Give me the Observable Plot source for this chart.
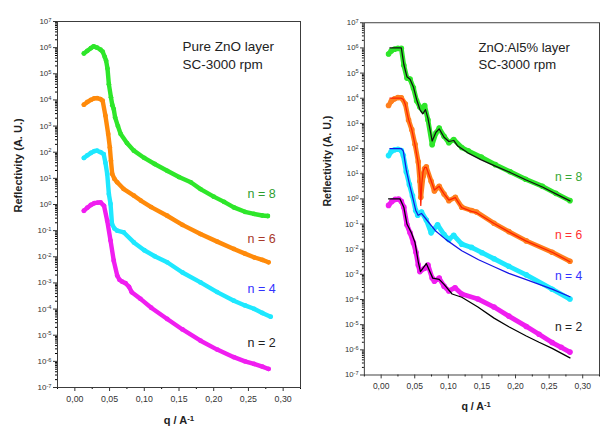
<!DOCTYPE html>
<html><head><meta charset="utf-8">
<script src="https://cdn.jsdelivr.net/npm/d3@7"></script>
<script src="https://cdn.jsdelivr.net/npm/@observablehq/plot@0.6"></script>
<style>
html,body{margin:0;padding:0;background:#fff;overflow:hidden;width:600px;height:427px}
#wrap{position:relative;width:600px;height:427px;overflow:hidden}
#left{position:absolute;left:0;top:0}
#right{position:absolute;left:300px;top:0}
svg{background:none}
</style></head><body><div id="wrap"><div id="left"></div><div id="right"></div></div>
<script>
// ---- Pure ZnO layer (left panel): q (1/A) and log10 reflectivity ----
const qPure8 = [0.013,0.018,0.023,0.027,0.032,0.037,0.040,0.043,0.045,0.047,0.049,0.052,0.054,0.056,0.058,0.062,0.066,0.075,0.085,0.100,0.115,0.133,0.150,0.167,0.181,0.200,0.215,0.229,0.245,0.258,0.270,0.278];
const lgPure8 = [5.78,5.88,5.98,6.05,6.0,5.92,5.85,5.65,5.5,5.2,4.6,4.1,3.8,3.65,3.33,3.0,2.7,2.35,2.06,1.78,1.55,1.29,1.05,0.85,0.59,0.3,0.1,-0.11,-0.28,-0.36,-0.42,-0.44];
const qPure6 = [0.013,0.018,0.023,0.028,0.032,0.037,0.040,0.044,0.048,0.0504,0.052,0.0538,0.057,0.061,0.070,0.085,0.095,0.110,0.133,0.155,0.181,0.205,0.229,0.245,0.258,0.270,0.279];
const lgPure6 = [3.82,3.92,4.0,4.06,4.07,4.03,3.97,3.4,2.70,2.18,1.67,1.17,0.98,0.85,0.6,0.34,0.15,-0.1,-0.43,-0.78,-1.13,-1.42,-1.70,-1.88,-2.02,-2.12,-2.21];
const qPure4 = [0.013,0.018,0.023,0.028,0.032,0.037,0.0415,0.044,0.0466,0.049,0.0514,0.0535,0.057,0.061,0.0705,0.085,0.100,0.115,0.133,0.155,0.181,0.205,0.229,0.245,0.258,0.270,0.282];
const lgPure4 = [1.78,1.88,1.97,2.04,2.06,2.0,1.93,1.6,1.17,0.40,0.02,-0.75,-0.92,-1.0,-1.07,-1.45,-1.75,-1.98,-2.21,-2.6,-2.98,-3.35,-3.68,-3.86,-3.99,-4.15,-4.29];
const qPure2 = [0.013,0.018,0.023,0.028,0.033,0.037,0.042,0.0466,0.0514,0.056,0.061,0.0643,0.068,0.073,0.078,0.082,0.0946,0.110,0.133,0.155,0.181,0.205,0.229,0.245,0.258,0.270,0.279];
const lgPure2 = [-0.24,-0.12,-0.02,0.05,0.07,0.08,-0.05,-0.62,-1.38,-2.15,-2.72,-2.88,-2.95,-3.01,-3.15,-3.36,-3.61,-3.95,-4.38,-4.78,-5.21,-5.55,-5.84,-6.0,-6.10,-6.2,-6.29];

// ---- ZnO:Al5% layer (right panel): measured points and fits ----
const qAl8 = [0.011,0.015,0.020,0.025,0.030,0.0337,0.0384,0.043,0.048,0.0528,0.0576,0.0625,0.0648,0.0697,0.0759,0.0816,0.0864,0.0936,0.1008,0.108,0.120,0.1296,0.149,0.170,0.192,0.215,0.240,0.260,0.281];
const lgAl8 = [5.76,5.88,5.95,5.98,5.98,5.31,4.80,4.76,4.41,3.90,3.65,3.50,3.71,3.13,2.15,2.62,2.81,2.49,2.23,2.36,2.04,1.91,1.66,1.36,1.08,0.78,0.50,0.22,-0.07];
const qAl8fit = [0.013,0.020,0.025,0.030,0.0337,0.0384,0.043,0.048,0.0528,0.0576,0.062,0.066,0.0697,0.0759,0.0816,0.0864,0.0936,0.1008,0.108,0.114,0.1296,0.149,0.170,0.192,0.215,0.240,0.260,0.281];
const lgAl8fit = [6.0,6.0,6.0,6.0,5.35,4.85,4.75,4.45,3.95,3.55,3.38,3.55,3.2,2.30,2.65,2.78,2.45,2.28,2.32,2.10,1.82,1.55,1.30,1.05,0.76,0.47,0.20,-0.08];
const qAl6 = [0.011,0.015,0.020,0.025,0.030,0.036,0.0408,0.0456,0.0504,0.0552,0.0576,0.059,0.0625,0.0648,0.0672,0.0744,0.0792,0.0864,0.0936,0.1008,0.1104,0.120,0.1345,0.142,0.168,0.190,0.216,0.2545,0.281];
const lgAl6 = [3.71,3.88,3.98,4.03,4.02,3.77,3.13,2.75,2.17,1.47,0.70,0.06,0.9,1.2,1.27,0.70,0.31,0.50,0.19,-0.07,0.06,-0.33,-0.46,-0.52,-0.97,-1.30,-1.67,-2.12,-2.48];
const qAl6fit = [0.013,0.020,0.025,0.030,0.033,0.036,0.0408,0.0456,0.0504,0.0552,0.0576,0.059,0.0605,0.0625,0.0648,0.0672,0.0744,0.0792,0.0864,0.0936,0.1008,0.1104,0.120,0.1345,0.142,0.168,0.190,0.216,0.2545,0.281];
const lgAl6fit = [4.0,4.0,4.0,4.0,3.95,3.75,3.15,2.75,2.15,1.4,0.8,-0.26,0.6,1.1,1.25,1.25,0.72,0.35,0.5,0.2,-0.05,0.05,-0.35,-0.5,-0.55,-0.98,-1.31,-1.68,-2.12,-2.5];
const qAl4 = [0.011,0.015,0.020,0.025,0.030,0.033,0.0374,0.042,0.0466,0.0514,0.0545,0.060,0.0672,0.0744,0.084,0.0936,0.1008,0.108,0.120,0.1345,0.150,0.168,0.190,0.216,0.2545,0.281];
const lgAl4 = [1.72,1.88,1.95,1.97,1.92,1.72,1.08,0.57,0.12,-0.46,-0.65,-0.52,-0.84,-1.35,-1.03,-1.42,-1.61,-1.45,-1.80,-1.93,-2.14,-2.38,-2.68,-3.02,-3.59,-3.98];
const qAl4fit = [0.013,0.020,0.025,0.030,0.033,0.0374,0.042,0.0466,0.0514,0.055,0.060,0.0697,0.0816,0.096,0.120,0.145,0.168,0.190,0.216,0.2545,0.281];
const lgAl4fit = [2.0,2.0,2.0,2.0,1.9,1.15,0.6,0.1,-0.45,-0.65,-0.58,-0.90,-1.29,-1.61,-2.06,-2.42,-2.70,-2.96,-3.21,-3.59,-3.89];
const qAl2 = [0.011,0.016,0.021,0.026,0.030,0.0337,0.0384,0.043,0.048,0.0518,0.0552,0.0576,0.0648,0.0697,0.0759,0.0792,0.0864,0.0936,0.1008,0.110,0.120,0.144,0.168,0.190,0.216,0.235,0.2545,0.268,0.281];
const lgAl2 = [-0.26,-0.1,-0.02,-0.01,-0.1,-0.33,-1.03,-1.35,-1.74,-2.12,-2.63,-2.89,-2.76,-2.63,-3.15,-3.27,-3.15,-3.47,-3.66,-3.53,-3.78,-3.98,-4.30,-4.66,-5.07,-5.38,-5.71,-5.90,-6.09];
const qAl2fit = [0.011,0.020,0.028,0.0337,0.0384,0.045,0.0504,0.0552,0.0585,0.0672,0.0768,0.0864,0.0936,0.1056,0.120,0.144,0.168,0.190,0.216,0.235,0.2545,0.281];
const lgAl2fit = [0.0,0.0,0.0,-0.33,-1.0,-1.35,-1.74,-2.5,-2.89,-2.57,-3.15,-3.2,-3.4,-3.78,-3.91,-4.3,-4.74,-5.08,-5.45,-5.70,-5.94,-6.32];

// ---- labels and ticks ----
const seriesNames = ["n = 8","n = 6","n = 4","n = 2"];
const pureLabelAt = [2.6, 0.049, 6.0e-4, 5.1e-6];
const alLabelAt = [7.6, 0.037, 8.3e-4, 8.3e-6];
const pureTitle = "Pure ZnO layer\nSC-3000 rpm";
const alTitle = "ZnO:Al5% layer\nSC-3000 rpm";
const xTitle = "q / A^-1";
const yTitle = "Reflectivity (A. U.)";
const xMajor = [0, 0.05, 0.10, 0.15, 0.20, 0.25, 0.30];
const xMinor = [-0.025, 0.025, 0.075, 0.125, 0.175, 0.225, 0.275, 0.325];
const yExponents = [-7,-6,-5,-4,-3,-2,-1,0,1,2,3,4,5,6,7];

const X_DOMAIN = [-0.025, 0.325];
const Y_DOMAIN = [1e-7, 1e7];
const yMajor = yExponents.map(k => Math.pow(10, k));
const yMinor = [];
yExponents.slice(0, -1).forEach(k => { for (let m = 2; m <= 9; m++) yMinor.push(m * Math.pow(10, k)); });

const toRows = (q, lg) => q.map((x, i) => ({q: x, r: Math.pow(10, lg[i])}));
const FONT = "'Liberation Sans', Arial, Helvetica, sans-serif";

function panel(o) {
  const marks = [
    Plot.axisX({ticks: xMajor, tickSize: 4, tickPadding: 4, fontSize: 8.8, color: "#333",
      tickFormat: d => d.toFixed(2).replace(".", ","), label: null}),
    Plot.axisX({ticks: xMinor, tickSize: 2, tickFormat: () => "", label: null}),
    Plot.axisY({ticks: yMajor, tickSize: 4, tickPadding: 2, fontSize: 8, color: "#333",
      tickFormat: d => "10^" + Math.round(Math.log10(d)), label: null}),
    Plot.axisY({ticks: yMinor, tickSize: 2, tickFormat: () => "", label: null}),
    Plot.frame({stroke: "#3c3c3c", strokeWidth: 1})
  ];
  o.points.forEach(s => {
    const rows = toRows(s.q, s.lg);
    marks.push(Plot.line(rows, {x: "q", y: "r", stroke: s.color, strokeWidth: o.lineW, strokeLinejoin: "round", strokeLinecap: "round"}));
    marks.push(Plot.dot(rows, {x: "q", y: "r", fill: s.color, r: o.dotR}));
  });
  (o.fits || []).forEach(s => {
    marks.push(Plot.line(toRows(s.q, s.lg), {x: "q", y: "r", stroke: s.color, strokeWidth: 1.3}));
  });
  marks.push(
    Plot.text([o.title], {frameAnchor: "top-left", dx: o.titleDx, dy: o.titleDy, textAnchor: "start",
      lineAnchor: "middle", fontSize: 13.5, lineHeight: 1.33, fill: "#222"}),
    Plot.text(seriesNames, {y: (d, i) => o.labelAt[i], text: d => d, frameAnchor: "right", dx: o.labelDx,
      textAnchor: "start", fontSize: 12.5, fill: (d, i) => o.labelColors[i]}),
    Plot.text([xTitle], {frameAnchor: "bottom", lineAnchor: "middle", dy: 33, dx: o.xTitleDx, fontWeight: "bold", fontSize: 11, fill: "#222"}),
    Plot.text([yTitle], {frameAnchor: "left", lineAnchor: "middle", dx: o.yTitleDx, dy: 8, rotate: -90, fontWeight: "bold", fontSize: 11, fill: "#222"})
  );
  const svg = Plot.plot({
    width: o.width, height: 427,
    marginLeft: o.marginLeft, marginRight: 1, marginTop: o.marginTop, marginBottom: 40,
    x: {domain: X_DOMAIN},
    y: {type: "log", domain: Y_DOMAIN},
    style: {fontFamily: FONT, background: "none", overflow: "visible"},
    marks
  });
  svg.querySelectorAll("text").forEach(t => {
    if (t.children.length) return;
    const s = t.textContent, i = s.indexOf("^");
    if (i < 0) return;
    t.textContent = s.slice(0, i);
    const ts = document.createElementNS("http://www.w3.org/2000/svg", "tspan");
    ts.setAttribute("dy", "-0.42em");
    ts.setAttribute("font-size", "0.72em");
    ts.textContent = s.slice(i + 1);
    t.appendChild(ts);
  });
  return svg;
}

const GREEN = "#2ee62a", ORANGE = "#ff8a0a", CYAN = "#1ee8ff", MAGENTA = "#f01ef0";

document.getElementById("left").appendChild(panel({
  width: 301, marginLeft: 57, marginTop: 21, lineW: 4.4, dotR: 2.4,
  points: [
    {q: qPure8, lg: lgPure8, color: GREEN},
    {q: qPure6, lg: lgPure6, color: ORANGE},
    {q: qPure4, lg: lgPure4, color: CYAN},
    {q: qPure2, lg: lgPure2, color: MAGENTA}
  ],
  title: pureTitle, titleDx: 125, titleDy: 33,
  labelAt: pureLabelAt, labelDx: -53, labelColors: ["#2f9e2f", "#a8392a", "#3232ff", "#222"],
  xTitleDx: 0, yTitleDx: -39
}));

document.getElementById("right").appendChild(panel({
  width: 310, marginLeft: 66, marginTop: 23, lineW: 5, dotR: 2.9,
  points: [
    {q: qAl8, lg: lgAl8, color: GREEN},
    {q: qAl6, lg: lgAl6, color: "#ff7f1e"},
    {q: qAl4, lg: lgAl4, color: CYAN},
    {q: qAl2, lg: lgAl2, color: MAGENTA}
  ],
  fits: [
    {q: qAl8fit, lg: lgAl8fit, color: "#111"},
    {q: qAl6fit, lg: lgAl6fit, color: "#ff2200"},
    {q: qAl4fit, lg: lgAl4fit, color: "#1414e6"},
    {q: qAl2fit, lg: lgAl2fit, color: "#000"}
  ],
  title: alTitle, titleDx: 118, titleDy: 33.5,
  labelAt: alLabelAt, labelDx: -46, labelColors: ["#36a836", "#ff3030", "#3232ff", "#222"],
  xTitleDx: -6, yTitleDx: -38
}));
</script></body></html>
